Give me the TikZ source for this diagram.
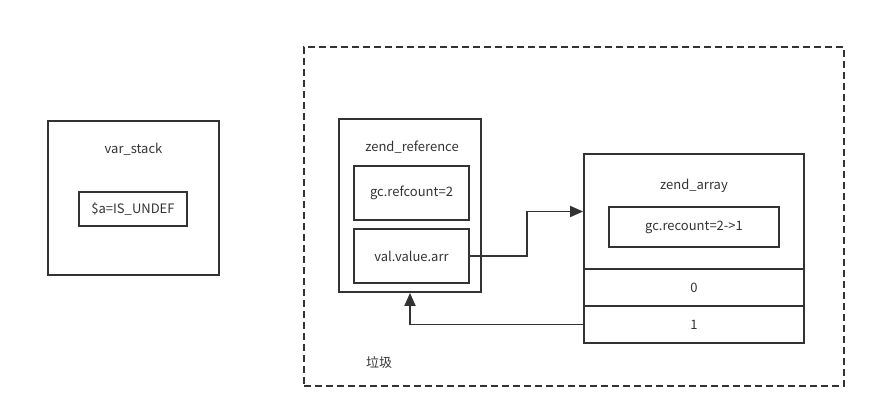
\documentclass[tikz,border=0pt]{standalone}
\usepackage{fontspec}
\setmainfont{Noto Sans CJK SC}
\usetikzlibrary{arrows.meta}
\definecolor{ink}{HTML}{333333}
\begin{document}
\begin{tikzpicture}[x=1pt,y=-1pt,line width=1.8pt,draw=ink,text=ink,
  every node/.style={font=\fontsize{13}{15}\selectfont},
  box/.style={draw=ink,rectangle,inner sep=0pt},
  >={Triangle[length=13pt,width=11pt]}]
\useasboundingbox (0,0) rectangle (876,419);

\node[box,dash pattern=on 7pt off 4pt,minimum width=540pt,minimum height=339pt] (gc) at (574,216.5) {};
\node (gclabel) at (379,363) {垃圾};

\node[box,minimum width=171pt,minimum height=154pt] (stack) at (133.5,198) {};
\node (stacklabel) at (133.5,149) {var\_stack};
\node[box,minimum width=108pt,minimum height=34pt] (sa) at (133,209) {\$a=IS\_UNDEF};

\node[box,minimum width=142pt,minimum height=173pt] (ref) at (410,205.5) {};
\node (reflabel) at (412,147) {zend\_reference};
\node[box,minimum width=115pt,minimum height=54pt] (refcnt) at (411.5,193) {gc.refcount=2};
\node[box,minimum width=115pt,minimum height=54pt] (valarr) at (411.5,256) {val.value.arr};

\node[box,minimum width=220pt,minimum height=115pt] (arrtop) at (694,211.5) {};
\node (arrlabel) at (694,186) {zend\_array};
\node[box,minimum width=170pt,minimum height=40pt] (recount) at (694,227) {gc.recount=2->1};
\node[box,minimum width=220pt,minimum height=37pt] (row0) at (694,287.5) {0};
\node[box,minimum width=220pt,minimum height=37pt] (row1) at (694,324.5) {1};

\coordinate (bend) at (527,256);
\draw[->] (valarr.east) -- (bend) |- (arrtop.west);
\draw[->] (row1.west) -| (ref.south);
\end{tikzpicture}
\end{document}
